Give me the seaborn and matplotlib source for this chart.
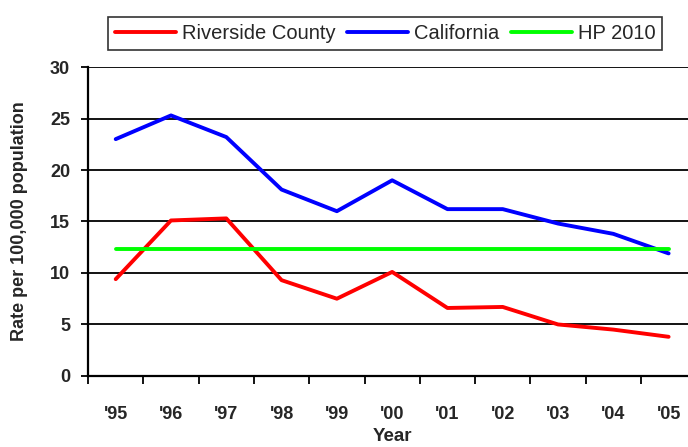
import numpy as np
import pandas as pd
import matplotlib
matplotlib.use("Agg")
import matplotlib.pyplot as plt
import seaborn as sns

years = ["'95", "'96", "'97", "'98", "'99", "'00", "'01", "'02", "'03", "'04", "'05"]
riverside = [9.4, 15.1, 15.3, 9.3, 7.5, 10.1, 6.6, 6.7, 5.0, 4.5, 3.8]
california = [23.0, 25.3, 23.2, 18.1, 16.0, 19.0, 16.2, 16.2, 14.8, 13.8, 11.9]
hp2010 = [12.3] * len(years)

series = {"Riverside County": riverside, "California": california, "HP 2010": hp2010}
colors = {"Riverside County": "#ff0000", "California": "#0000ff", "HP 2010": "#00ff00"}

rows = []
for name, vals in series.items():
    for i, v in enumerate(vals):
        rows.append({"idx": i, "rate": v, "series": name})
df = pd.DataFrame(rows)

sns.set_style("white")
plt.rcParams["font.family"] = ["Liberation Sans", "DejaVu Sans"]

fig = plt.figure(figsize=(6.88, 4.47), dpi=100)
ax = fig.add_axes([0.128, 0.159, 0.884, 0.691])

sns.lineplot(data=df, x="idx", y="rate", hue="series", palette=colors,
             hue_order=list(series.keys()), linewidth=2.8, ax=ax, legend=True)

ax.set_ylim(0, 30)
ax.set_xlim(-0.5, len(years) - 0.5)
ax.set_yticks(np.arange(0, 31, 5))
ax.yaxis.grid(True, color="black", linewidth=1.3)
ax.set_axisbelow(True)

# category boundaries as major ticks, labels at centers
ax.set_xticks(np.arange(-0.5, len(years), 1.0))
ax.set_xticklabels([])
ax.set_xticks(np.arange(len(years)), minor=True)
ax.set_xticklabels(years, minor=True, fontsize=13, fontweight="bold")
ax.tick_params(axis="x", which="major", length=6, width=1.3, direction="out", color="black", bottom=True)
ax.tick_params(axis="x", which="minor", length=0, pad=22)
ax.tick_params(axis="y", length=5, width=1.3, color="black", left=True, labelsize=13, pad=8)
for lab in ax.get_yticklabels():
    lab.set_fontweight("bold")

for s in ["top", "right"]:
    ax.spines[s].set_visible(False)
for s in ["left", "bottom"]:
    ax.spines[s].set_color("black")
    ax.spines[s].set_linewidth(1.6)

ax.set_xlabel("Year", fontsize=13.5, fontweight="bold", labelpad=3)
ax.set_ylabel("Rate per 100,000 population", fontsize=13, fontweight="bold", labelpad=16)

handles, labels = ax.get_legend_handles_labels()
leg = fig.legend(handles, labels, loc="center", bbox_to_anchor=(0.56, 0.925), ncol=3,
                 frameon=True, fancybox=False, fontsize=14.5, handlelength=3.0,
                 handletextpad=0.3, columnspacing=0.6, borderpad=0.35)
leg.get_frame().set_edgecolor("black")
leg.get_frame().set_linewidth(1.2)
ax.get_legend().remove()

fig.savefig("out.png", dpi=100)
